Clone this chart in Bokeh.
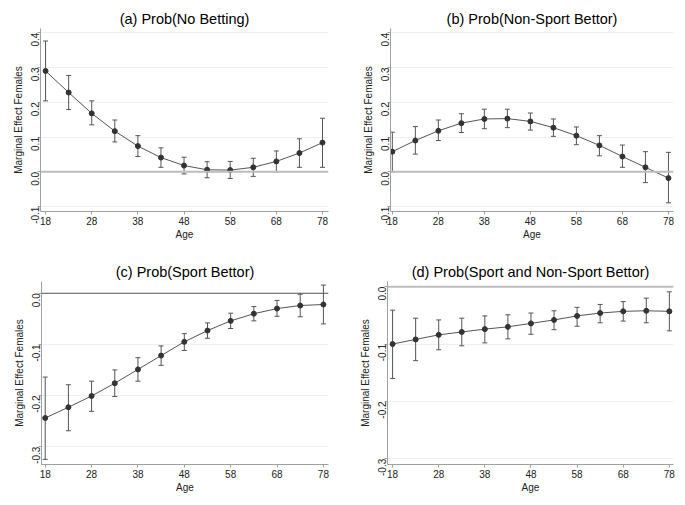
from bokeh.plotting import figure
from bokeh.models import Range1d, FixedTicker, ColumnDataSource, Whisker, TeeHead, Span
from bokeh.layouts import column, row
from bokeh.embed import file_html
from bokeh.resources import INLINE
import math

ages = [18, 23, 28, 33, 38, 43, 48, 53, 58, 63, 68, 73, 78]

a_est = [0.290, 0.228, 0.168, 0.117, 0.074, 0.041, 0.018, 0.006, 0.005, 0.013, 0.030, 0.054, 0.084]
a_lo = [0.204, 0.179, 0.135, 0.086, 0.044, 0.013, -0.006, -0.017, -0.019, -0.013, 0.000, 0.013, 0.013]
a_hi = [0.376, 0.277, 0.204, 0.149, 0.104, 0.069, 0.042, 0.029, 0.030, 0.039, 0.060, 0.095, 0.154]

b_est = [0.058, 0.090, 0.118, 0.140, 0.152, 0.153, 0.145, 0.127, 0.104, 0.076, 0.044, 0.013, -0.018]
b_lo = [0.000, 0.051, 0.090, 0.113, 0.124, 0.127, 0.120, 0.102, 0.078, 0.046, 0.013, -0.031, -0.089]
b_hi = [0.114, 0.130, 0.149, 0.167, 0.180, 0.180, 0.169, 0.152, 0.129, 0.104, 0.077, 0.058, 0.056]

c_est = [-0.244, -0.223, -0.201, -0.176, -0.149, -0.122, -0.095, -0.073, -0.054, -0.040, -0.030, -0.024, -0.022]
c_lo = [-0.325, -0.269, -0.231, -0.202, -0.172, -0.141, -0.112, -0.088, -0.069, -0.054, -0.045, -0.046, -0.060]
c_hi = [-0.164, -0.179, -0.172, -0.150, -0.126, -0.103, -0.079, -0.058, -0.039, -0.026, -0.014, -0.002, 0.016]

d_est = [-0.100, -0.092, -0.084, -0.079, -0.074, -0.070, -0.064, -0.058, -0.051, -0.046, -0.043, -0.042, -0.043]
d_lo = [-0.160, -0.129, -0.110, -0.103, -0.098, -0.091, -0.083, -0.075, -0.069, -0.063, -0.060, -0.063, -0.077]
d_hi = [-0.041, -0.055, -0.058, -0.055, -0.051, -0.049, -0.046, -0.042, -0.036, -0.031, -0.026, -0.020, -0.009]

titles = ["(a) Prob(No Betting)", "(b) Prob(Non-Sport Bettor)",
          "(c) Prob(Sport Bettor)", "(d) Prob(Sport and Non-Sport Bettor)"]
x_ticks = [18, 28, 38, 48, 58, 68, 78]
y_ticks_top = [-0.1, 0.0, 0.1, 0.2, 0.3, 0.4]
y_ticks_bottom = [-0.3, -0.2, -0.1, 0.0]

FONT = "Liberation Sans"


def panel(title, est, lo, hi, xr, yr, yticks, w, h, bl, br, bt, bb, zero_color, zero_width):
    p = figure(width=w, height=h, output_backend="svg", toolbar_location=None,
               x_range=Range1d(*xr), y_range=Range1d(*yr),
               min_border_left=bl, min_border_right=br, min_border_top=bt, min_border_bottom=bb)
    p.outline_line_color = None
    p.background_fill_color = "white"
    p.border_fill_color = "white"
    p.title.text = title
    p.title.align = "center"
    p.title.text_font = FONT
    p.title.text_font_size = "14.5px"
    p.title.text_font_style = "normal"
    p.title.text_color = "black"
    p.title.standoff = 4
    p.title.offset = 0

    p.xaxis.ticker = FixedTicker(ticks=x_ticks)
    p.yaxis.ticker = FixedTicker(ticks=yticks)
    p.yaxis.major_label_overrides = {t: f"{t:.1f}" for t in yticks}
    p.yaxis.major_label_orientation = math.pi / 2
    for ax in (p.xaxis, p.yaxis):
        ax.axis_line_color = "#a0a0a0"
        ax.major_tick_line_color = "#a0a0a0"
        ax.major_tick_out = 3
        ax.major_tick_in = 0
        ax.minor_tick_line_color = None
        ax.major_label_text_font = FONT
        ax.major_label_text_font_size = "10px"
        ax.major_label_text_color = "#222222"
        ax.major_label_standoff = 2
        ax.axis_label_text_font = FONT
        ax.axis_label_text_font_size = "10px"
        ax.axis_label_text_font_style = "normal"
        ax.axis_label_text_color = "#222222"
        ax.axis_label_standoff = 1
    p.xaxis.axis_label = "Age"
    p.yaxis.axis_label = "Marginal Effect Females"
    p.xgrid.grid_line_color = None
    p.ygrid.grid_line_color = "#efefef"
    p.ygrid.grid_line_width = 1

    p.add_layout(Span(location=0, dimension="width", line_color=zero_color, line_width=zero_width))

    src = ColumnDataSource(dict(x=ages, y=est, lo=lo, hi=hi))
    wh = Whisker(base="x", upper="hi", lower="lo", source=src, line_color="#555555", line_width=1,
                 upper_head=TeeHead(size=5, line_color="#555555", line_width=1),
                 lower_head=TeeHead(size=5, line_color="#555555", line_width=1))
    p.add_layout(wh)
    p.line("x", "y", source=src, line_color="#555555", line_width=1)
    p.scatter("x", "y", source=src, size=5, color="#333333")
    return p


pa = panel(titles[0], a_est, a_lo, a_hi, (16.9, 79.3), (-0.114, 0.412), y_ticks_top,
           340, 250, 40, 12, 28, 39, "#bdbdbd", 2)
pb = panel(titles[1], b_est, b_lo, b_hi, (17.6, 79.1), (-0.114, 0.412), y_ticks_top,
           337, 250, 50, 4, 28, 39, "#bdbdbd", 2)
pc = panel(titles[2], c_est, c_lo, c_hi, (17.2, 79.1), (-0.335, 0.023), y_ticks_bottom,
           340, 247, 41, 12, 31, 33, "#555555", 1.2)
pd = panel(titles[3], d_est, d_lo, d_hi, (16.9, 78.9), (-0.310, 0.009), y_ticks_bottom,
           337, 247, 47, 4, 31, 33, "#bdbdbd", 2)

layout = column(row(pa, pb), row(pc, pd))
open("out.html", "w").write(file_html(layout, INLINE))
